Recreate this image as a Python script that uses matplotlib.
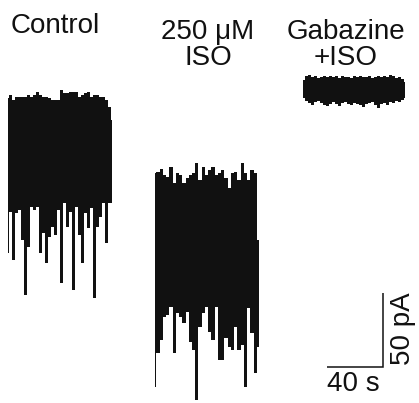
import matplotlib
matplotlib.use('Agg')
import matplotlib.pyplot as plt
import numpy as np

plt.rcParams['font.family'] = ['Liberation Sans', 'DejaVu Sans']

# -----------------------------
# Trace envelopes (pA), one value per sample bin
# -----------------------------
control_dt = 2.14  # s per bin
control_top = [-0.7, 1.4, -2.0, 0, 0, 0, 0, 1.4, 0, 1.4, 3.4, 1.4, 0, 0, -0.7, -2.0, -2.0, -2.0,
               4.7, 2.7, 2.7, 3.4, 3.4, 3.4, 0, 1.4, 2.7, 3.4, 0, 1.4, 1.4, 0, 0, -2.0, -6.8, -15.5]
control_bottom = [-105.5, -77.7, -110.2, -78.4, -76.4, -96.7, -133.8, -101.4, -74.4, -76.4, -74.4,
                  -105.5, -91.9, -112.2, -94.6, -87.9, -93.3, -76.4, -125.7, -71.7, -87.9, -77.7,
                  -130.5, -74.4, -93.3, -112.2, -78.4, -88.6, -75.0, -135.9, -87.9, -81.1, -71.7,
                  -98.7, -71.7, -71.7]

iso_dt = 2.32
iso_top = [-51.4, -50.7, -48.7, -52.7, -54.1, -47.3, -58.1, -51.4, -52.7, -58.1, -54.8, -52.7, -51.4,
           -44.6, -56.1, -47.3, -52.7, -49.3, -47.3, -52.7, -51.4, -49.3, -54.8, -61.5, -51.4, -50.7,
           -56.1, -44.6, -51.4, -56.1, -49.3, -51.4, -96.7]
iso_bottom = [-196.0, -173.1, -164.3, -148.7, -147.4, -142.0, -173.1, -146.0, -148.7, -152.8, -145.3,
              -165.6, -171.0, -204.8, -155.5, -146.0, -142.0, -158.9, -164.3, -142.0, -177.8, -177.8,
              -162.9, -169.0, -171.0, -155.5, -171.0, -167.6, -196.0, -142.6, -159.5, -186.6, -169.0]

gbz_dt = 2.14
gbz_top = [11.5, 14.2, 14.9, 13.5, 14.2, 12.8, 13.5, 14.2, 13.5, 14.2, 13.5, 14.2, 12.8, 14.2, 13.5,
           13.5, 12.8, 14.2, 13.5, 14.2, 13.5, 13.5, 14.2, 12.8, 13.5, 14.2, 13.5, 14.2, 13.5, 14.9,
           14.2, 12.8, 13.5, 12.2, 10.1]
gbz_bottom = [-0.7, -2.7, -4.1, -5.4, -3.4, -2.7, -4.1, -5.4, -6.1, -4.7, -3.4, -4.7, -6.1, -4.1, -3.4,
              -4.7, -5.4, -4.1, -4.7, -5.4, -6.8, -4.7, -4.1, -3.4, -5.4, -7.4, -4.7, -4.1, -5.4, -3.4,
              -4.1, -2.7, -3.4, -2.0, -0.7]

labels = ['Control', '250 \u03bcM\nISO', 'Gabazine\n+ISO']
scale_t = 40   # s
scale_i = 50   # pA

# -----------------------------
# Figure
# -----------------------------
W, H = 419, 403
fig = plt.figure(figsize=(W / 100, H / 100), dpi=100)
ax = fig.add_axes([0, 0, 1, 1])
s_per_px = 40 / 56.0
pa_per_px = 50 / 74.0
ax.set_xlim(0, W * s_per_px)
ax.set_ylim(-(H - 97) * pa_per_px, 97 * pa_per_px)
ax.axis('off')

col = '#111111'
traces = [(4.3, control_dt, control_top, control_bottom),
          (109.3, iso_dt, iso_top, iso_bottom),
          (215.7, gbz_dt, gbz_top, gbz_bottom)]
for t0, dt, top, bot in traces:
    top = np.asarray(top); bot = np.asarray(bot)
    t = t0 + dt * (np.arange(len(top)) + 0.5)
    ax.fill_between(t, bot, top, step='mid', color=col, lw=0)

# scale bar
sx1 = 273.6; sy0 = -182.3
ax.plot([sx1 - scale_t, sx1, sx1], [sy0, sy0, sy0 + scale_i], color=col, lw=1.1,
        solid_joinstyle='miter', solid_capstyle='butt')

fs = 20
fig.text(55 / W, 1 - 33 / H, labels[0], ha='center', va='baseline', fontsize=fs, color=col)
fig.text(208 / W, 1 - 65 / H, labels[1], ha='center', va='baseline', fontsize=fs, color=col,
         multialignment='center', linespacing=1.0)
fig.text(346 / W, 1 - 65 / H, labels[2], ha='center', va='baseline', fontsize=fs, color=col,
         multialignment='center', linespacing=1.0)
fig.text(353 / W, 1 - 391 / H, f'{scale_t} s', ha='center', va='baseline', fontsize=fs, color=col)
fig.text(403 / W, 1 - 329 / H, f'{scale_i} pA', ha='center', va='center', fontsize=fs,
         color=col, rotation=90)

fig.savefig('out.png', dpi=100)
